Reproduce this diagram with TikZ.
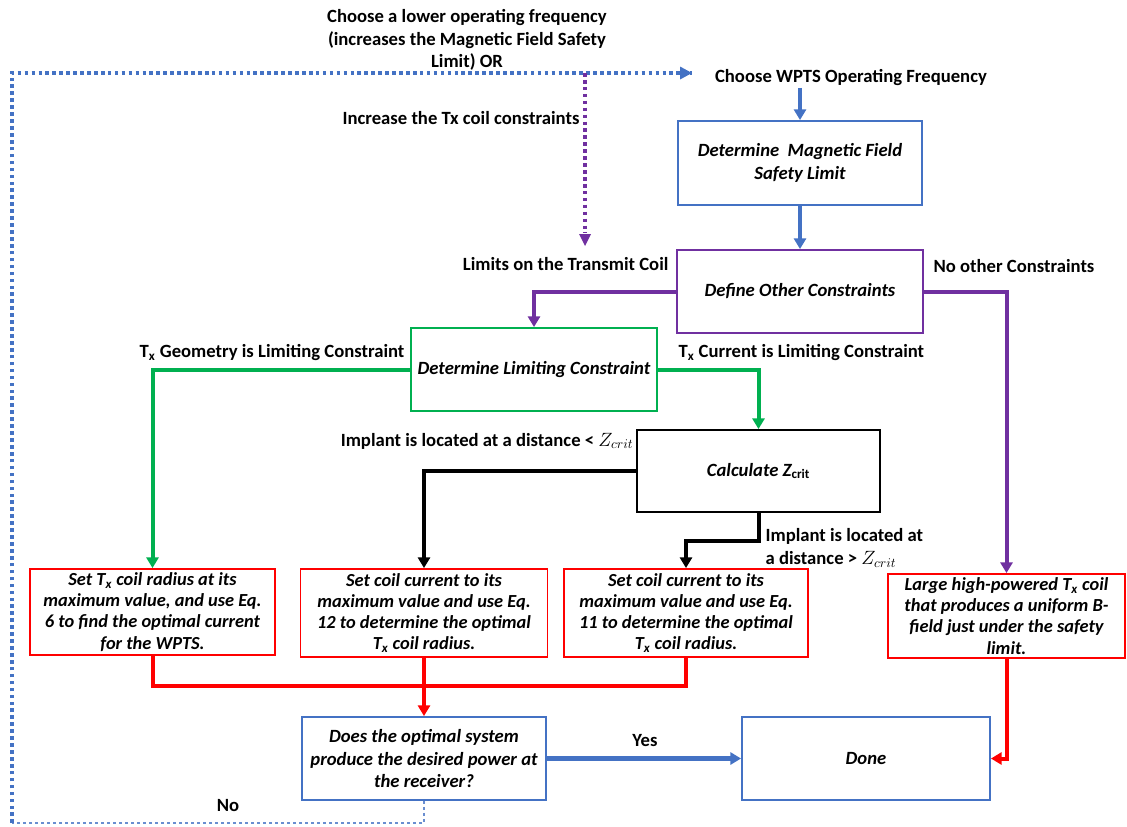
\documentclass[tikz,border=0pt]{standalone}
\usepackage{fontspec}
\setmainfont{Carlito}
\usetikzlibrary{arrows.meta}
\definecolor{cblue}{HTML}{4472C4}
\definecolor{cpurple}{HTML}{7030A0}
\definecolor{cgreen}{HTML}{00B050}
\definecolor{cred}{HTML}{FF0000}
\begin{document}
\begin{tikzpicture}[x=0.75pt,y=-0.75pt,
 lbl/.style={font=\bfseries\fontsize{14}{17}\selectfont, inner sep=1pt, align=center},
 bx/.style={draw, line width=1.4pt, align=center, inner sep=2pt, font=\bfseries\itshape\fontsize{14}{17}\selectfont},
 rbx/.style={bx, draw=cred, font=\bfseries\itshape\fontsize{13.8}{15.8}\selectfont},
 tip/.style={-{Triangle[width=9pt,length=8pt]}},
 conn/.style={line width=3pt, tip},
 plainline/.style={line width=3pt},
 dotl/.style={line width=2.7pt, dash pattern=on 2.7pt off 2.5pt}
]
\useasboundingbox (0,0) rectangle (1127,826);

% nodes
\node[lbl] (lower) at (467,40) {Choose a lower operating frequency\\(increases the Magnetic Field Safety\\Limit) OR};
\node[lbl, anchor=east] (incr) at (581,118) {Increase the Tx coil constraints};
\node[lbl] (choose) at (851,78) {Choose WPTS Operating Frequency};

\node[bx, draw=cblue, minimum width=183pt, minimum height=63pt] (dmf) at (800,163) {Determine\ \ Magnetic Field\\Safety Limit};
\node[bx, draw=cpurple, minimum width=184.5pt, minimum height=62.25pt] (doc) at (800,291.5) {Define Other Constraints};
\node[lbl, anchor=east] (limtx) at (670,264) {Limits on the Transmit Coil};
\node[lbl, anchor=west] (noother) at (932,266) {No other Constraints};

\node[bx, draw=cgreen, minimum width=184.5pt, minimum height=62.25pt] (dlc) at (534,369.5) {Determine Limiting Constraint};
\node[lbl, anchor=east] (geo) at (406,353) {T\textsubscript{x} Geometry is Limiting Constraint};
\node[lbl, anchor=west] (cur) at (677,353) {T\textsubscript{x} Current is Limiting Constraint};

\node[bx, draw=black, minimum width=182.25pt, minimum height=61.5pt] (calc) at (758.5,471) {Calculate Z\textsubscript{\upshape crit}};
\node[lbl, anchor=east] (less) at (635,441) {Implant is located at a distance < $Z_{crit}$};
\node[lbl, anchor=west, align=left] (more) at (764,548) {Implant is located at\\a distance > $Z_{crit}$};

\node[rbx, minimum width=183.75pt, minimum height=64.5pt] (b1) at (152.5,612) {Set T\textsubscript{x} coil radius at its\\maximum value, and use Eq.\\6 to find the optimal current\\for the WPTS.};
\node[rbx, minimum width=185.25pt, minimum height=66pt] (b2) at (424,613) {Set coil current to its\\maximum value and use Eq.\\12 to determine the optimal\\T\textsubscript{x} coil radius.};
\node[rbx, minimum width=183pt, minimum height=66pt] (b3) at (686,613) {Set coil current to its\\maximum value and use Eq.\\11 to determine the optimal\\T\textsubscript{x} coil radius.};
\node[rbx, minimum width=177.75pt, minimum height=63pt, inner ysep=0pt] (b4) at (1006.5,616) {Large high-powered T\textsubscript{x} coil\\that produces a uniform B-\\field just under the safety\\limit.};

\node[bx, draw=cblue, minimum width=183pt, minimum height=62.25pt] (does) at (424,758.5) {Does the optimal system\\produce the desired power at\\the receiver?};
\node[bx, draw=cblue, minimum width=186pt, minimum height=62.25pt] (done) at (866,758.5) {Done};
\node[lbl] (yes) at (645,740) {Yes};
\node[lbl] (no) at (228,805) {No};

% connectors
\draw[conn, cblue] (dmf.north |- choose.south) -- (dmf.north);
\draw[conn, cblue] (dmf.south) -- (doc.north);
\draw[conn, cpurple] (doc.west) -| (dlc.north);
\draw[conn, cpurple] (doc.east) -| (b4.north);
\draw[conn, cgreen] (dlc.west) -| (b1.north);
\draw[conn, cgreen] (dlc.east) -| (calc.north);
\draw[conn, black] (calc.west) -| (b2.north);
\draw[conn, black] (calc.south) -- ++(0,28) -| (b3.north);
\coordinate (rj) at (424,686);
\draw[plainline, cred] (b1.south) |- (rj) -| (b3.south);
\draw[conn, cred] (b2.south) -- (does.north);
\draw[conn, cred] (b4.south) |- (done.east);
\draw[conn, cblue, line width=3.5pt] (does.east) -- (done.west);

% feedback loop
\coordinate (tl) at (12,73);
\coordinate (bl) at (12,823);
\coordinate (ta) at (692,73);
\coordinate (ptop) at (585,73);
\coordinate (pend) at (585,246);
\draw[dotl, cblue!80, line width=2pt, dash pattern=on 2pt off 2.5pt] (does.south) -- (does.south |- bl) -- (bl);
\draw[dotl, cblue] (bl) -- (tl) -- (ta);
\fill[cblue] (ta) -- ++(-12,-6.5) -- ++(0,13) -- cycle;
\draw[dotl, cpurple] (ptop) -- ++(0,160);
\fill[cpurple] (pend) -- ++(-6,-12) -- ++(12,0) -- cycle;
\end{tikzpicture}
\end{document}
